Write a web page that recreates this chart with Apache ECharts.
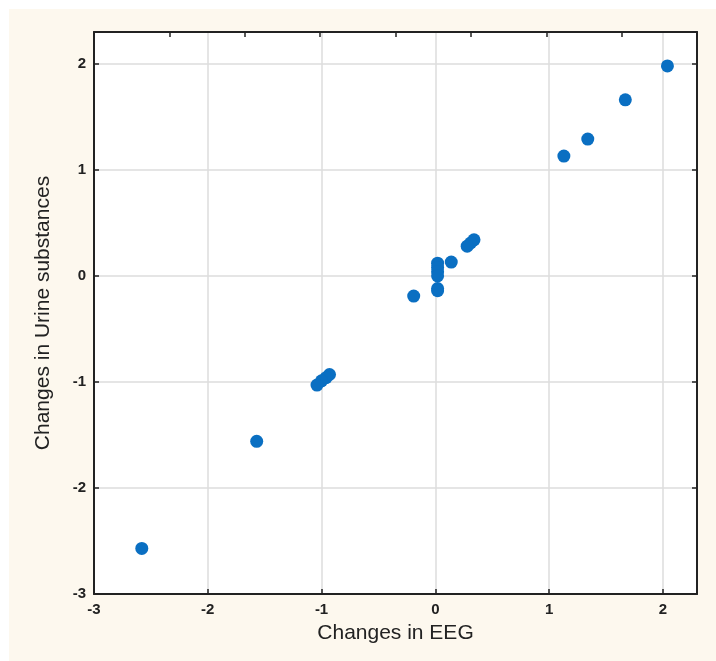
<!DOCTYPE html>
<html>
<head>
<meta charset="utf-8">
<script src="https://cdn.jsdelivr.net/npm/echarts@6/dist/echarts.min.js"></script>
<style>
  html, body { margin: 0; padding: 0; background: #ffffff; }
  #chart { width: 716px; height: 661px; }
</style>
</head>
<body>
<div id="chart"></div>
<script>
// x: changes in EEG, y: changes in urine substances
const eegChange = [2.04, 1.67, 1.34, 1.13, 0.34, 0.31, 0.28, 0.14, 0.02, 0.02, 0.02, 0.02, 0.02, 0.02, -0.19, -0.93, -0.96, -1.0, -1.04, -1.57, -2.58]
const urineChange = [1.98, 1.66, 1.29, 1.13, 0.34, 0.31, 0.28, 0.13, 0.12, 0.08, 0.04, 0.0, -0.12, -0.14, -0.19, -0.93, -0.96, -0.99, -1.03, -1.56, -2.57]
const axisTicks = [-3, -2, -1, 0, 1, 2]

const points = eegChange.map((x, i) => [x, urineChange[i]])

const myChart = echarts.init(document.getElementById('chart'))

const frameLine = { show: true, onZero: false, lineStyle: { color: '#222', width: 2 } }
const tickFont = { color: '#222', fontSize: 15, fontWeight: 'bold', fontFamily: 'Liberation Sans' }
const nameFont = { color: '#222', fontSize: 21, fontFamily: 'Liberation Sans' }

const option = {
  backgroundColor: '#ffffff',
  animation: false,
  graphic: [
    {
      type: 'rect',
      z: -10,
      shape: { x: 9, y: 9, width: 707, height: 652 },
      style: { fill: '#fdf8ee' }
    }
  ],
  grid: {
    left: 94,
    right: 19,
    top: 32,
    bottom: 67,
    show: true,
    backgroundColor: '#ffffff',
    borderWidth: 0
  },
  xAxis: [
    {
      type: 'value',
      min: -3,
      max: 2.3,
      interval: 1,
      position: 'bottom',
      name: 'Changes in EEG',
      nameLocation: 'middle',
      nameGap: 29,
      nameMoveOverlap: false,
      nameTextStyle: nameFont,
      axisLine: frameLine,
      axisTick: { show: true, inside: true, length: 5, lineStyle: { color: '#222', width: 1.5 } },
      axisLabel: Object.assign({ margin: 8, showMaxLabel: false, formatter: (v) => (axisTicks.includes(v) ? String(v) : '') }, tickFont),
      splitLine: { show: true, lineStyle: { color: '#dcdcdc', width: 1.5 } }
    },
    {
      // top frame, Statistica draws its own division ticks here
      type: 'value',
      min: 0,
      max: 8,
      interval: 1,
      position: 'top',
      axisLine: frameLine,
      axisTick: { show: true, inside: true, length: 5, lineStyle: { color: '#222', width: 1.5 } },
      axisLabel: { show: false },
      splitLine: { show: false }
    }
  ],
  yAxis: [
    {
      type: 'value',
      min: -3,
      max: 2.3,
      interval: 1,
      position: 'left',
      name: 'Changes in Urine substances',
      nameLocation: 'middle',
      nameGap: 40,
      nameMoveOverlap: false,
      nameTextStyle: nameFont,
      axisLine: frameLine,
      axisTick: { show: true, inside: true, length: 5, lineStyle: { color: '#222', width: 1.5 } },
      axisLabel: Object.assign({ margin: 8, showMaxLabel: false, formatter: (v) => (axisTicks.includes(v) ? String(v) : '') }, tickFont),
      splitLine: { show: true, lineStyle: { color: '#dcdcdc', width: 1.5 } }
    },
    {
      type: 'value',
      min: -3,
      max: 2.3,
      interval: 1,
      position: 'right',
      axisLine: frameLine,
      axisTick: { show: true, inside: true, length: 5, lineStyle: { color: '#222', width: 1.5 } },
      axisLabel: { show: false },
      splitLine: { show: false }
    }
  ],
  series: [
    {
      type: 'scatter',
      xAxisIndex: 0,
      yAxisIndex: 0,
      data: points,
      symbol: 'circle',
      symbolSize: 13,
      itemStyle: { color: '#0a6fc2', opacity: 1 }
    }
  ]
}
myChart.setOption(option)
</script>
</body>
</html>
